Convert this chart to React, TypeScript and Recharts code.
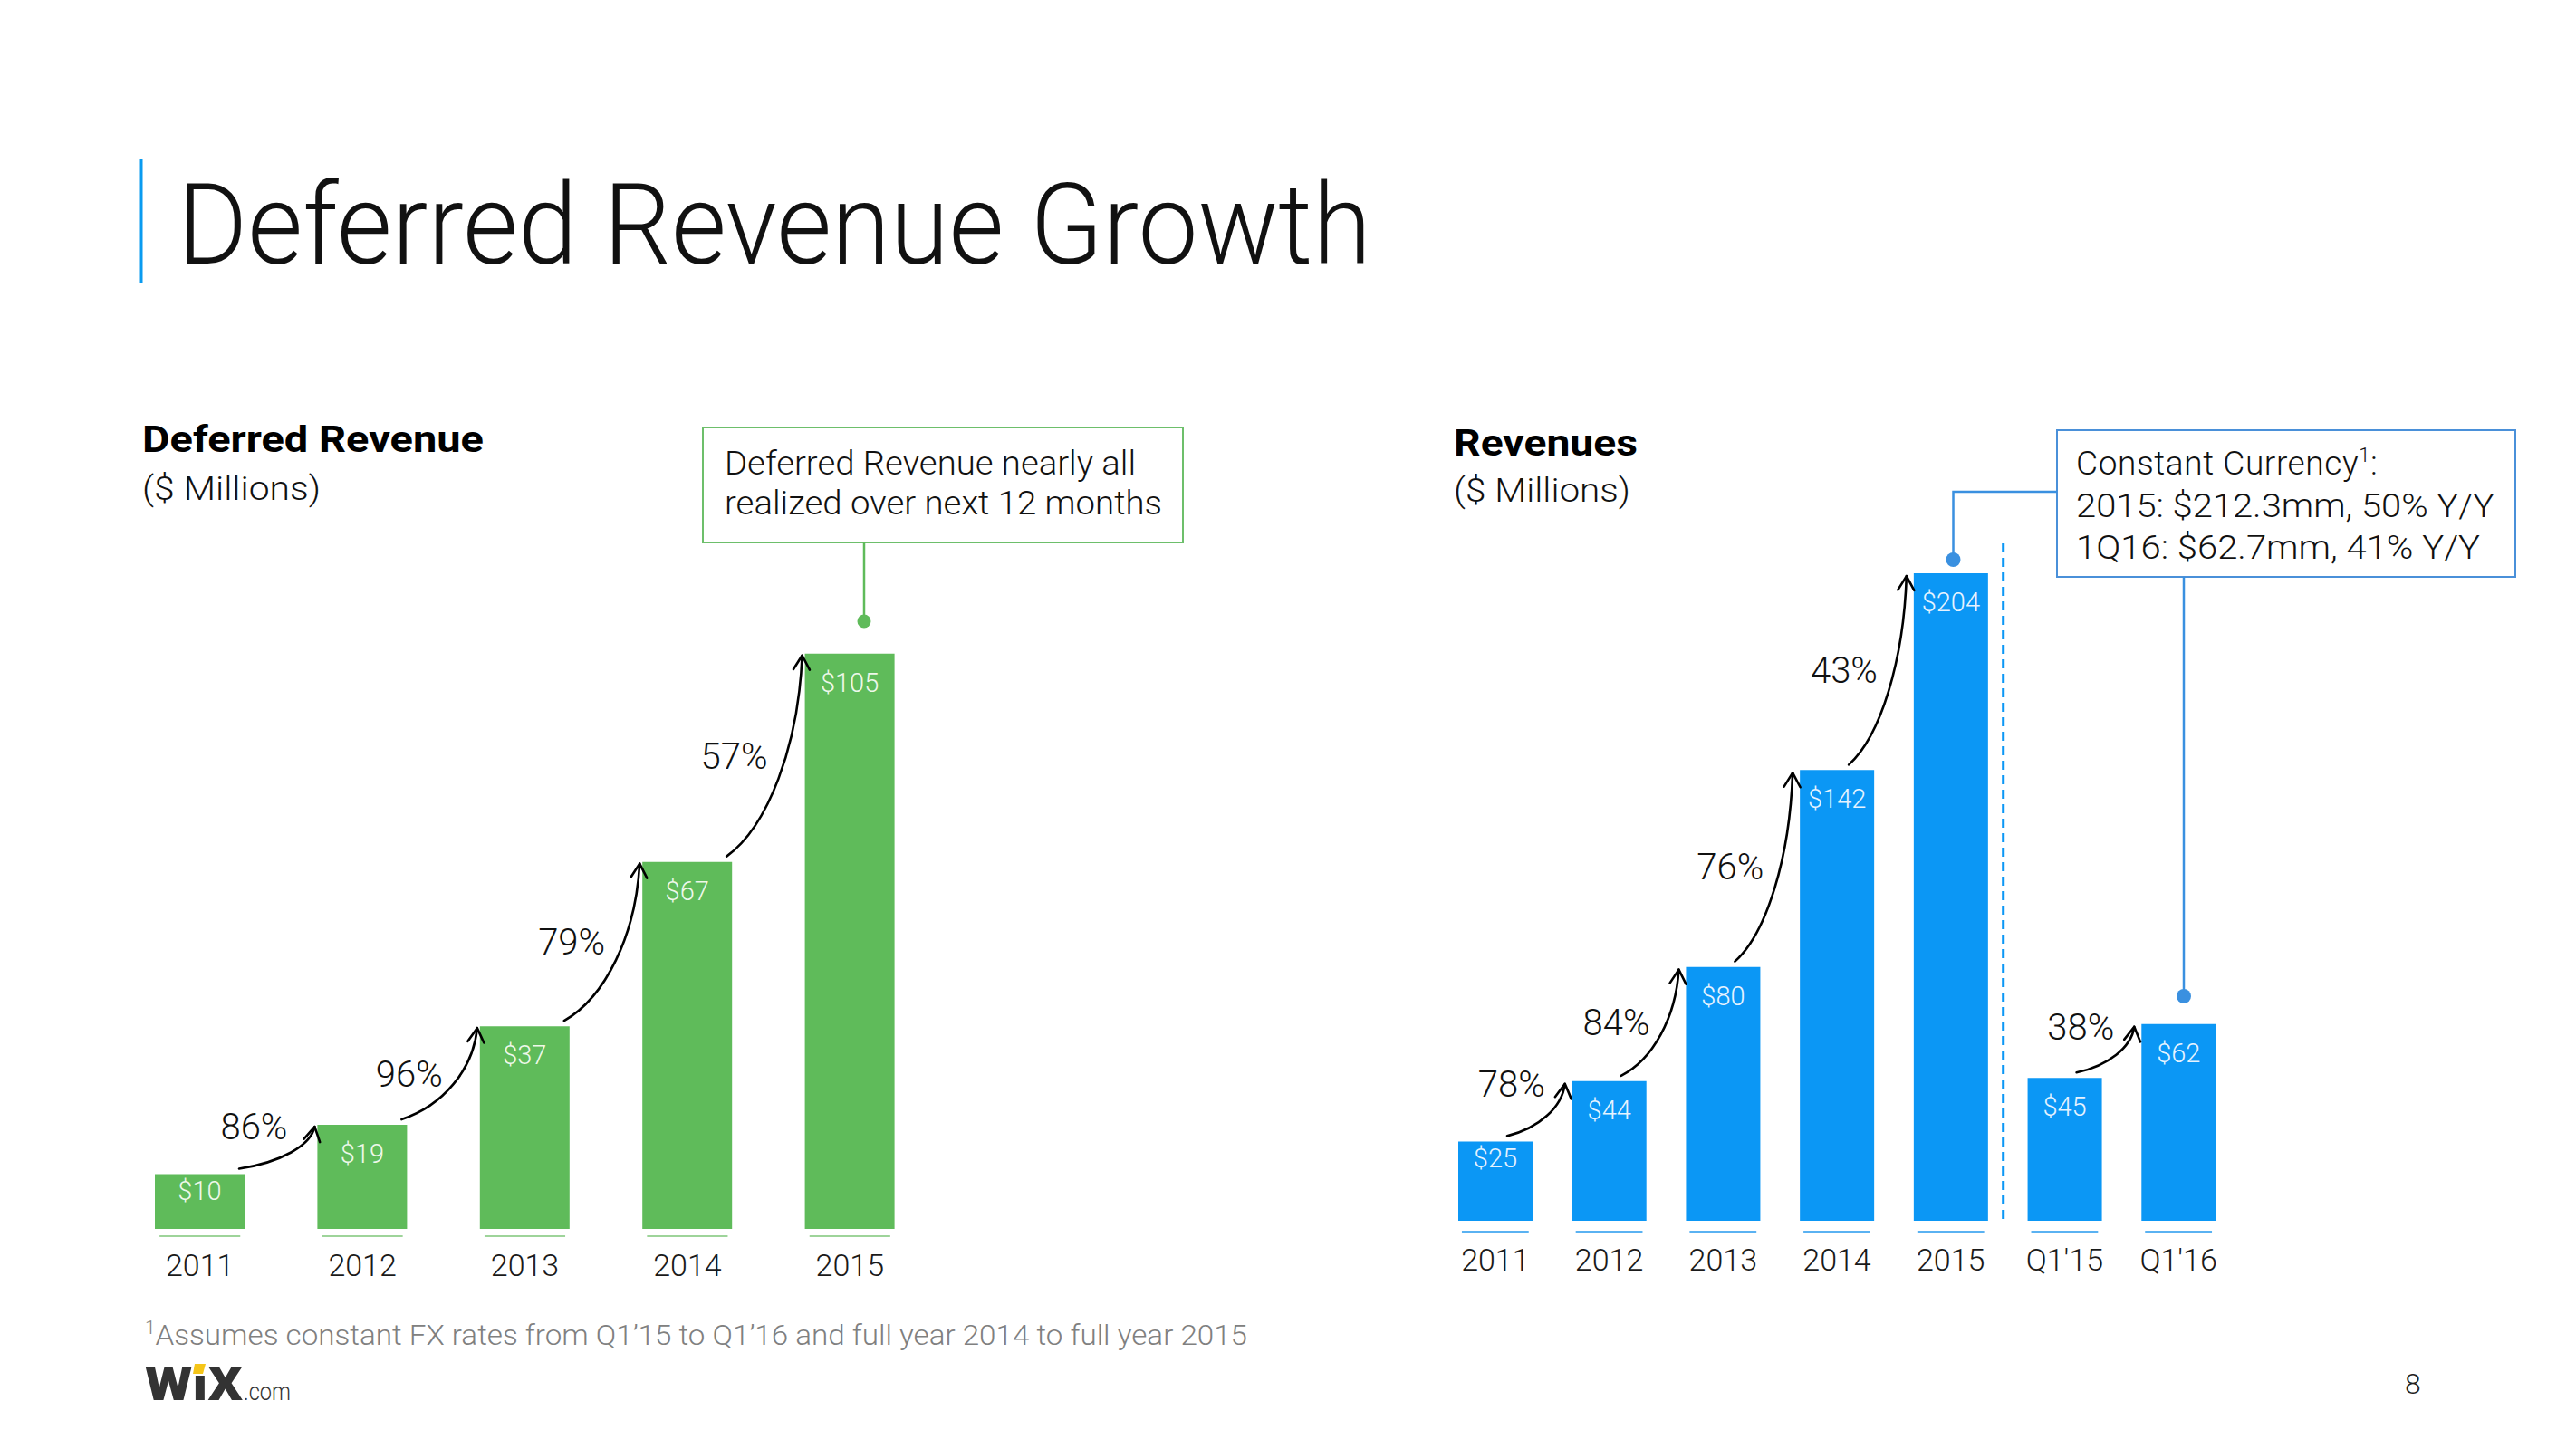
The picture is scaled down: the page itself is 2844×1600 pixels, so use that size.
import React from 'react';
import { BarChart, Bar, XAxis, YAxis, LabelList } from 'recharts';

// --- Data ---
const deferredYears = ['2011', '2012', '2013', '2014', '2015'];
const deferredValues = [10, 19, 37, 67, 105];
const deferredGrowth = [null, 86, 96, 79, 57];

const revenueLabels = ['2011', '2012', '2013', '2014', '2015', "Q1'15", "Q1'16"];
const revenueValues = [25, 44, 80, 142, 204, 45, 62];
const revenueGrowth = [null, 78, 84, 76, 43, null, 38];

const GREEN = '#5fbb5a';
const BLUE = '#0b97f5';
const LINK_BLUE = '#3a90e0';
const FONT = 'Roboto, "Liberation Sans", sans-serif';

// panel configs (layout only)
const LEFT = {
  left: 40, top: 600, width: 1100, height: 850,
  margin: { top: 31, right: 112, bottom: 33, left: 91 },
  yMax: 120, barSize: 99, color: GREEN, tickColor: '#9ed49a', labelFill: '#eef8ea',
  tickLineDy: 8, tickTextDy: 52, start: { dx: -6, dy: -6 }, end: { dx: -3, dy: 2 }, pctGap: 30,
};
const RIGHT = {
  left: 1500, top: 480, width: 1100, height: 950,
  margin: { top: 97, right: 132, bottom: 22, left: 88 },
  yMax: 220, barSize: 82, color: BLUE, tickColor: '#5ab2f2', labelFill: '#e6f3ff',
  tickLineDy: 12, tickTextDy: 55, start: { dx: -28, dy: -6 }, end: { dx: -8, dy: 3 }, pctGap: 22,
};

const vb = (p: any) => {
  const v = p.viewBox && p.viewBox.width != null ? p.viewBox : p;
  return { x: v.x, y: v.y, w: v.width, h: v.height };
};

const makeTick = (cfg: any) => (props: any) => {
  const { x, y, payload } = props;
  const half = cfg.barSize * 0.45;
  return (
    <g>
      <line x1={x - half} x2={x + half} y1={y + cfg.tickLineDy} y2={y + cfg.tickLineDy} stroke={cfg.tickColor} strokeWidth={2} />
      <text x={x} y={y + cfg.tickTextDy} textAnchor="middle" fontFamily={FONT} fontWeight={300} fontSize={34} fill="#1a1a1a">
        {payload.value}
      </text>
    </g>
  );
};

const makeValueLabel = (cfg: any) => (props: any) => {
  const { x, y, w, h } = vb(props);
  const cy = y + (h < 100 ? 18.5 : 32);
  return (
    <text x={x + w / 2} y={cy + 10} textAnchor="middle" fontFamily={FONT} fontWeight={300} fontSize={29} fill={cfg.labelFill}>
      ${props.value}
    </text>
  );
};

const makeArrow = (cfg: any, labels: string[], values: number[], growth: (number | null)[], divider?: string) => (props: any) => {
  const { x, y, w, h } = vb(props);
  const i = props.index;
  const step = (cfg.width - cfg.margin.left - cfg.margin.right) / labels.length;
  const base = y + h;
  const ppu = h / values[i];
  const parts: React.ReactNode[] = [];

  if (divider && labels[i] === divider) {
    const dx = x - (step - w) / 2 - 5;
    parts.push(
      <line key="div" x1={dx} x2={dx} y1={cfg.margin.top + 23} y2={base + 3} stroke={BLUE} strokeWidth={3} strokeDasharray="10 6" />
    );
  }

  const g = growth[i];
  if (g != null && i > 0) {
    const prevRight = x - step + w;
    const prevTop = base - values[i - 1] * ppu;
    const sx = prevRight + cfg.start.dx;
    const sy = prevTop + cfg.start.dy;
    const ex = x + cfg.end.dx;
    const ey = y + cfg.end.dy;
    const ddx = ex - sx;
    const ddy = sy - ey;
    const c1x = sx + 0.55 * ddx, c1y = sy - 0.15 * ddy;
    const c2x = ex - 0.05 * ddx, c2y = ey + 0.45 * ddy;
    // arrow head
    const vx = ex - c2x, vy = ey - c2y;
    const len = Math.hypot(vx, vy);
    const ux = vx / len, uy = vy / len;
    const ang = (30 * Math.PI) / 180;
    const hl = 18;
    const rot = (a: number) => ({
      x: ex - hl * (ux * Math.cos(a) - uy * Math.sin(a)),
      y: ey - hl * (ux * Math.sin(a) + uy * Math.cos(a)),
    });
    const h1 = rot(ang), h2 = rot(-ang);
    // label sits left of the curve
    const mx = (sx + 3 * c1x + 3 * c2x + ex) / 8;
    const tall = ddy >= 80;
    const lx = tall ? mx - 12 : ex - cfg.pctGap;
    const ly = tall ? (sy + ey) / 2 : ey;
    parts.push(
      <g key="arrow">
        <path d={`M${sx},${sy} C${c1x},${c1y} ${c2x},${c2y} ${ex},${ey}`} fill="none" stroke="#000" strokeWidth={2.6} strokeLinecap="round" />
        <path d={`M${h1.x},${h1.y} L${ex},${ey} L${h2.x},${h2.y}`} fill="none" stroke="#000" strokeWidth={2.6} strokeLinecap="round" strokeLinejoin="round" />
        <text x={lx} y={ly + 14} textAnchor="end" fontFamily={FONT} fontWeight={300} fontSize={40} fill="#111">
          {g}%
        </text>
      </g>
    );
  }
  return <g>{parts}</g>;
};

const Panel = ({ cfg, labels, values, growth, divider }: any) => {
  const data = labels.map((l: string, i: number) => ({ label: l, value: values[i] }));
  return (
    <div style={{ position: 'absolute', left: cfg.left, top: cfg.top }}>
      <BarChart width={cfg.width} height={cfg.height} data={data} margin={cfg.margin}>
        <XAxis dataKey="label" height={60} axisLine={false} tickLine={false} tickSize={0} tickMargin={0} interval={0} tick={makeTick(cfg)} />
        <YAxis hide domain={[0, cfg.yMax]} />
        <Bar dataKey="value" fill={cfg.color} barSize={cfg.barSize} isAnimationActive={false}>
          <LabelList dataKey="value" content={makeValueLabel(cfg)} />
          <LabelList dataKey="value" content={makeArrow(cfg, labels, values, growth, divider)} />
        </Bar>
      </BarChart>
    </div>
  );
};

const txt = { fontFamily: FONT, fontWeight: 300, fill: '#111' } as const;

export default function App() {
  return (
    <div style={{ position: 'relative', width: 2844, height: 1600, background: '#fff', overflow: 'hidden' }}>
      <style>{`body{margin:0}`}</style>
      <svg width={2844} height={1600} style={{ position: 'absolute', left: 0, top: 0 }}>
        {/* title */}
        <rect x={154.5} y={176} width={3} height={136} fill="#0a9bf0" />
        <text x={196} y={291} fontSize={124} textLength={1318} lengthAdjust="spacingAndGlyphs" {...txt}>Deferred Revenue Growth</text>

        {/* left headings + callout */}
        <text x={157} y={499} fontSize={40} fontFamily={FONT} fontWeight={700} fill="#000" textLength={377} lengthAdjust="spacingAndGlyphs">Deferred Revenue</text>
        <text x={157} y={552} fontSize={37} textLength={197} lengthAdjust="spacingAndGlyphs" {...txt}>($ Millions)</text>
        <rect x={776} y={472} width={530} height={127} fill="none" stroke="#6dbf6b" strokeWidth={2} />
        <text x={800} y={523.5} fontSize={37} textLength={454} lengthAdjust="spacingAndGlyphs" {...txt}>Deferred Revenue nearly all</text>
        <text x={800} y={568} fontSize={37} textLength={483} lengthAdjust="spacingAndGlyphs" {...txt}>realized over next 12 months</text>
        <line x1={954} x2={954} y1={599} y2={686} stroke={GREEN} strokeWidth={2.5} />
        <circle cx={954} cy={686} r={7.5} fill={GREEN} />

        {/* right headings + callout */}
        <text x={1605} y={503} fontSize={40} fontFamily={FONT} fontWeight={700} fill="#000" textLength={203} lengthAdjust="spacingAndGlyphs">Revenues</text>
        <text x={1605} y={554} fontSize={37} textLength={195} lengthAdjust="spacingAndGlyphs" {...txt}>($ Millions)</text>
        <rect x={2271} y={475} width={506} height={162} fill="none" stroke="#4a90d9" strokeWidth={2} />
        <text x={2292} y={524} fontSize={37} letterSpacing={0.6} {...txt}>
          Constant Currency<tspan fontSize={22} dy={-14}>1</tspan><tspan dy={14}>:</tspan>
        </text>
        <text x={2292} y={571} fontSize={37} textLength={462} lengthAdjust="spacingAndGlyphs" {...txt}>2015: $212.3mm, 50% Y/Y</text>
        <text x={2292} y={617} fontSize={37} textLength={446} lengthAdjust="spacingAndGlyphs" {...txt}>1Q16: $62.7mm, 41% Y/Y</text>
        <polyline points="2271,543 2156.5,543 2156.5,618" fill="none" stroke={LINK_BLUE} strokeWidth={2.5} />
        <circle cx={2156.5} cy={618} r={8} fill={LINK_BLUE} />
        <line x1={2411} x2={2411} y1={637} y2={1100} stroke={LINK_BLUE} strokeWidth={2.5} />
        <circle cx={2411} cy={1100} r={8} fill={LINK_BLUE} />

        {/* footnote, logo, page number */}
        <text x={160} y={1485} fontSize={32} fontFamily={FONT} fontWeight={300} fill="#808080" textLength={1217} lengthAdjust="spacingAndGlyphs">
          <tspan fontSize={20} dy={-12}>1</tspan>
          <tspan dy={12}>Assumes constant FX rates from Q1’15 to Q1’16 and full year 2014 to full year 2015</tspan>
        </text>
        <text x={160} y={1546} fontSize={52} fontFamily={FONT} fontWeight={900} fill="#333" textLength={108} lengthAdjust="spacingAndGlyphs">WıX</text>
        <polygon points="215,1506 227,1506 224,1517 213,1517" fill="#f5c518" />
        <text x={269} y={1546} fontSize={27} fontFamily={FONT} fontWeight={300} fill="#333" textLength={52} lengthAdjust="spacingAndGlyphs">.com</text>
        <text x={2655} y={1539} fontSize={32} fontFamily={FONT} fontWeight={300} fill="#222">8</text>
      </svg>

      <Panel cfg={LEFT} labels={deferredYears} values={deferredValues} growth={deferredGrowth} />
      <Panel cfg={RIGHT} labels={revenueLabels} values={revenueValues} growth={revenueGrowth} divider={"Q1'15"} />
    </div>
  );
}
